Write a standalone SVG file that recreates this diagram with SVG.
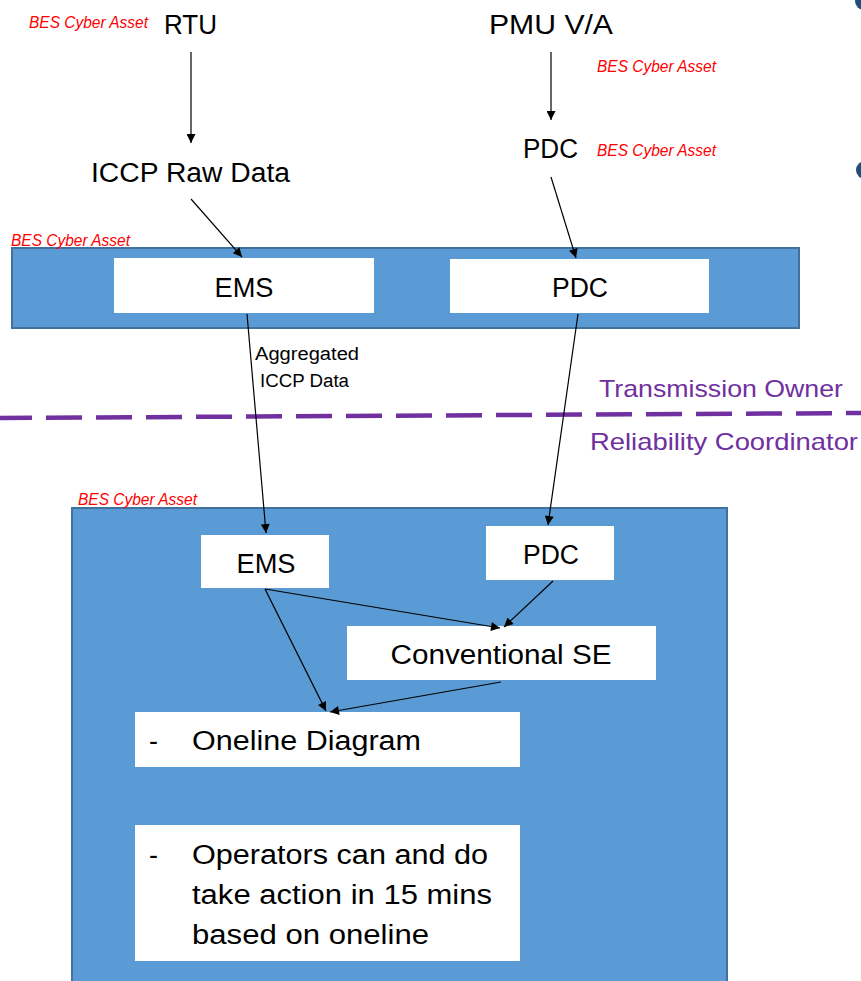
<svg xmlns="http://www.w3.org/2000/svg" width="861" height="981" viewBox="0 0 861 981">
<defs>
<style>
.t{font-family:"Liberation Sans",Arial,sans-serif;fill:#000}
.big{font-size:27px}
.red{font-family:"Liberation Sans",Arial,sans-serif;font-style:italic;font-size:16px;fill:#FF0000}
.pur{font-family:"Liberation Sans",Arial,sans-serif;font-size:24px;fill:#7030A0}
.small{font-size:18px}
.blue{fill:#5B9BD5;stroke:#41719C;stroke-width:2}
.box{fill:#FFFFFF}
.ln{stroke:#000;stroke-width:1.2;fill:none;marker-end:url(#ah)}
</style>
<marker id="ah" viewBox="0 0 10 10" refX="10" refY="5" markerWidth="10" markerHeight="9" markerUnits="userSpaceOnUse" orient="auto">
<path d="M0,0 L10,5 L0,10 z" fill="#000"/>
</marker>
</defs>
<rect width="861" height="981" fill="#FFFFFF"/>

<!-- bullet fragments -->
<circle cx="864" cy="1" r="9" fill="#1F4E79"/>
<circle cx="865" cy="170" r="9" fill="#1F4E79"/>

<!-- containers -->
<g id="to-container">
<rect class="blue" x="12" y="248" width="787" height="80"/>
<text class="red" x="11" y="246" textLength="119" lengthAdjust="spacingAndGlyphs">BES Cyber Asset</text>
</g>
<g id="rc-container">
<rect class="blue" x="72" y="508" width="655" height="480"/>
<text class="red" x="78" y="505" textLength="119" lengthAdjust="spacingAndGlyphs">BES Cyber Asset</text>
</g>

<!-- boundary -->
<g id="boundary">
<line x1="0" y1="418" x2="861" y2="413" stroke="#7030A0" stroke-width="4.5" stroke-dasharray="36,14" stroke-dashoffset="4"/>
<text class="pur" x="599" y="397" textLength="244" lengthAdjust="spacingAndGlyphs">Transmission Owner</text>
<text class="pur" x="590" y="450" textLength="268" lengthAdjust="spacingAndGlyphs">Reliability Coordinator</text>
</g>

<!-- nodes -->
<g id="rtu">
<text class="t big" x="164" y="34" textLength="53" lengthAdjust="spacingAndGlyphs">RTU</text>
<text class="red" x="29" y="28" textLength="119" lengthAdjust="spacingAndGlyphs">BES Cyber Asset</text>
</g>
<g id="pmu">
<text class="t big" x="489" y="34" textLength="124" lengthAdjust="spacingAndGlyphs">PMU V/A</text>
<text class="red" x="597" y="72" textLength="119" lengthAdjust="spacingAndGlyphs">BES Cyber Asset</text>
</g>
<g id="iccp-raw">
<text class="t big" x="91" y="182" textLength="199" lengthAdjust="spacingAndGlyphs">ICCP Raw Data</text>
</g>
<g id="pdc-field">
<text class="t big" x="523" y="158" textLength="55" lengthAdjust="spacingAndGlyphs">PDC</text>
<text class="red" x="597" y="156" textLength="119" lengthAdjust="spacingAndGlyphs">BES Cyber Asset</text>
</g>
<g id="ems-to">
<rect class="box" x="114" y="258" width="260" height="55"/>
<text class="t big" x="244" y="297" text-anchor="middle" textLength="59" lengthAdjust="spacingAndGlyphs">EMS</text>
</g>
<g id="pdc-to">
<rect class="box" x="450" y="259" width="259" height="54"/>
<text class="t big" x="580" y="297" text-anchor="middle" textLength="56" lengthAdjust="spacingAndGlyphs">PDC</text>
</g>
<g id="ems-rc">
<rect class="box" x="201" y="535" width="128" height="53"/>
<text class="t big" x="266" y="573" text-anchor="middle" textLength="59" lengthAdjust="spacingAndGlyphs">EMS</text>
</g>
<g id="pdc-rc">
<rect class="box" x="486" y="526" width="128" height="54"/>
<text class="t big" x="551" y="564" text-anchor="middle" textLength="56" lengthAdjust="spacingAndGlyphs">PDC</text>
</g>
<g id="conv-se">
<rect class="box" x="347" y="626" width="309" height="54"/>
<text class="t big" x="501" y="664" text-anchor="middle" textLength="221" lengthAdjust="spacingAndGlyphs">Conventional SE</text>
</g>
<g id="oneline">
<rect class="box" x="135" y="712" width="385" height="55"/>
<text class="t big" x="149" y="750">-</text>
<text class="t big" x="192" y="750" textLength="229" lengthAdjust="spacingAndGlyphs">Oneline Diagram</text>
</g>
<g id="operators">
<rect class="box" x="135" y="825" width="385" height="136"/>
<text class="t big" x="149" y="864">-</text>
<text class="t big" x="192" y="864" textLength="296" lengthAdjust="spacingAndGlyphs">Operators can and do</text>
<text class="t big" x="192" y="904" textLength="300" lengthAdjust="spacingAndGlyphs">take action in 15 mins</text>
<text class="t big" x="192" y="944" textLength="237" lengthAdjust="spacingAndGlyphs">based on oneline</text>
</g>

<!-- connectors -->
<g id="connectors">
<line class="ln" x1="191" y1="52" x2="191" y2="143"/>
<line class="ln" x1="551" y1="52" x2="551" y2="120"/>
<line class="ln" x1="191" y1="199" x2="242" y2="257"/>
<line class="ln" x1="551" y1="177" x2="576" y2="258"/>
<line class="ln" x1="247" y1="314" x2="266" y2="533"/>
<line class="ln" x1="578" y1="314" x2="548" y2="525"/>
<line class="ln" x1="265" y1="589" x2="500" y2="628"/>
<line class="ln" x1="553" y1="581" x2="504" y2="627"/>
<line class="ln" x1="265" y1="589" x2="326" y2="711"/>
<line class="ln" x1="501" y1="682" x2="330" y2="712"/>
<text class="t small" x="255" y="360" textLength="104" lengthAdjust="spacingAndGlyphs">Aggregated</text>
<text class="t small" x="260" y="387" textLength="89" lengthAdjust="spacingAndGlyphs">ICCP Data</text>
</g>
</svg>
